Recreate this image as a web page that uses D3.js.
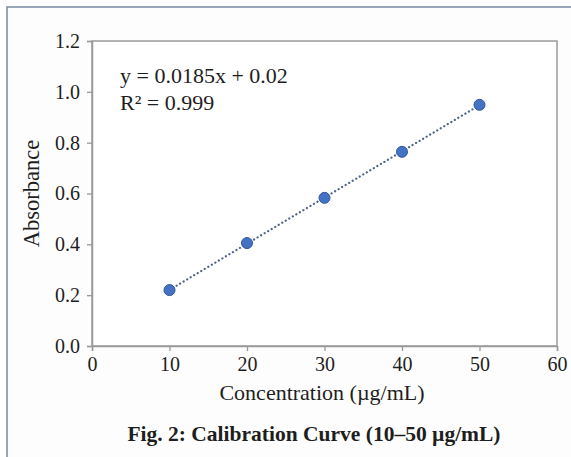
<!DOCTYPE html>
<html><head><meta charset="utf-8">
<script src="https://cdn.jsdelivr.net/npm/d3@7"></script>
<style>html,body{margin:0;padding:0;background:#fff;}svg{display:block;}</style>
</head><body>
<svg id="c" width="571" height="457"></svg>
<script>
const concentrations = [10, 20, 30, 40, 50];
const absorbance = [0.22, 0.405, 0.583, 0.764, 0.949];
const xTicks = [0, 10, 20, 30, 40, 50, 60];
const yTicks = [0.0, 0.2, 0.4, 0.6, 0.8, 1.0, 1.2];
const equationLines = ["y = 0.0185x + 0.02", "R² = 0.999"];
const xTitle = "Concentration (µg/mL)";
const yTitle = "Absorbance";
const caption = "Fig. 2: Calibration Curve (10–50 µg/mL)";

const svg = d3.select("#c");
const font = "'Liberation Serif','Times New Roman',serif";
const m = {left: 92, top: 41, right: 557, bottom: 346};

// outer frame
svg.append("rect").attr("x", 7).attr("y", 7).attr("width", 580).attr("height", 470)
  .attr("fill", "#fdfdfd").attr("stroke", "#7f8ea6").attr("stroke-width", 1.6);

const x = d3.scaleLinear().domain([0, 60]).range([m.left, m.right]);
const y = d3.scaleLinear().domain([0, 1.2]).range([m.bottom, m.top]);

// plot border
svg.append("rect").attr("x", m.left).attr("y", m.top)
  .attr("width", m.right - m.left).attr("height", m.bottom - m.top)
  .attr("fill", "#fff").attr("stroke", "#9a9a9a").attr("stroke-width", 1.5);

const xAxis = svg.append("g").attr("transform", `translate(0,${m.bottom})`)
  .call(d3.axisBottom(x).tickValues(xTicks).tickFormat(d3.format("d")).tickSize(5).tickPadding(6));
const yAxis = svg.append("g").attr("transform", `translate(${m.left},0)`)
  .call(d3.axisLeft(y).tickValues(yTicks).tickFormat(d3.format(".1f")).tickSize(5).tickPadding(7));
[xAxis, yAxis].forEach(a => {
  a.select(".domain").attr("stroke", "#9a9a9a").attr("stroke-width", 1.5);
  a.selectAll(".tick line").attr("stroke", "#9a9a9a").attr("stroke-width", 1.3);
  a.selectAll("text").attr("font-family", font).attr("font-size", 20).attr("fill", "#1e1e1e");
});

// linear regression trendline
const mx = d3.mean(concentrations), my = d3.mean(absorbance);
let sxy = 0, sxx = 0;
concentrations.forEach((c, i) => { sxy += (c - mx) * (absorbance[i] - my); sxx += (c - mx) * (c - mx); });
const slope = sxy / sxx, icpt = my - slope * mx;
const x0 = d3.min(concentrations), x1 = d3.max(concentrations);
svg.append("line")
  .attr("x1", x(x0)).attr("y1", y(slope * x0 + icpt))
  .attr("x2", x(x1)).attr("y2", y(slope * x1 + icpt))
  .attr("stroke", "#4e6387").attr("stroke-width", 2.2)
  .attr("stroke-dasharray", "0.1,4").attr("stroke-linecap", "round");

// points
svg.selectAll("circle.pt").data(concentrations).join("circle").attr("class", "pt")
  .attr("cx", d => x(d)).attr("cy", (d, i) => y(absorbance[i])).attr("r", 5.5)
  .attr("fill", "#4472c4").attr("stroke", "#2f5597").attr("stroke-width", 1);

// equation
svg.selectAll("text.eq").data(equationLines).join("text").attr("class", "eq")
  .attr("x", 120).attr("y", (d, i) => 83 + i * 27)
  .attr("font-family", font).attr("font-size", 22).attr("fill", "#1e1e1e").text(d => d);

// axis titles
svg.append("text").attr("x", 322).attr("y", 400)
  .attr("text-anchor", "middle").attr("font-family", font).attr("font-size", 22)
  .attr("fill", "#1e1e1e").text(xTitle);
svg.append("text").attr("transform", `translate(39,${(m.top + m.bottom) / 2}) rotate(-90)`)
  .attr("text-anchor", "middle").attr("font-family", font).attr("font-size", 22.5)
  .attr("fill", "#1e1e1e").text(yTitle);

// caption
svg.append("text").attr("x", 314).attr("y", 441)
  .attr("text-anchor", "middle").attr("font-family", font).attr("font-size", 21.5)
  .attr("font-weight", "bold").attr("fill", "#1e1e1e").text(caption);
</script>
</body></html>
